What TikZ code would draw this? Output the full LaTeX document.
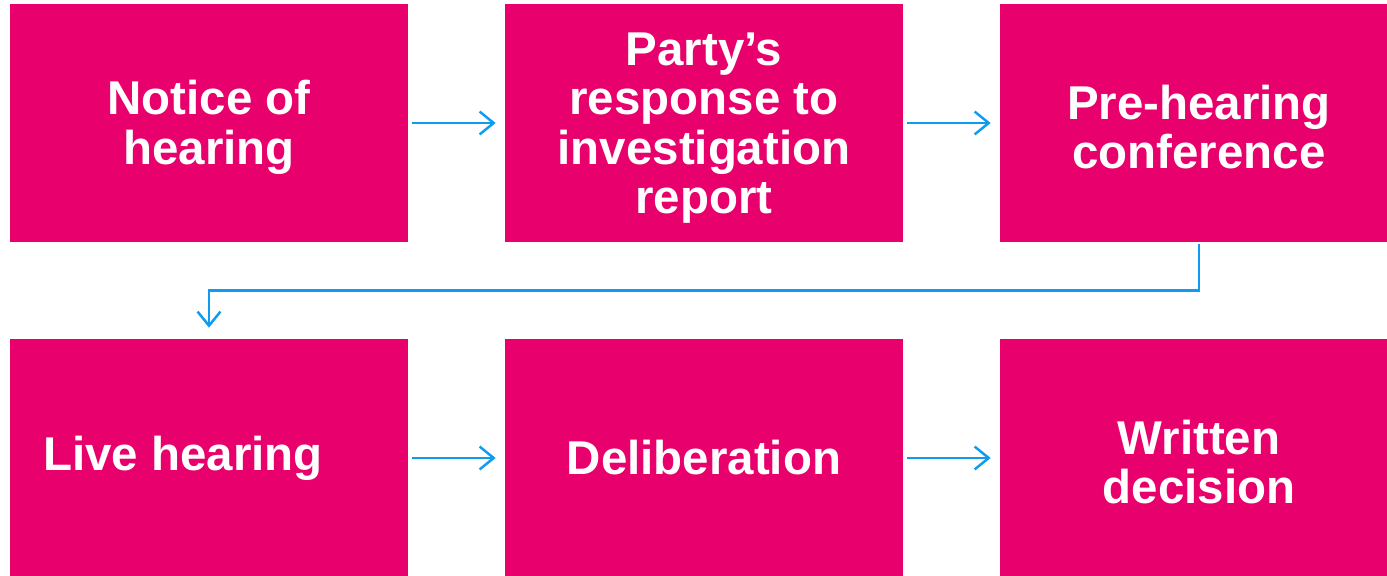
\documentclass[tikz,border=0pt]{standalone}
\usepackage{fontspec}
\setmainfont{Liberation Sans}
\usepackage{tikz}
\usetikzlibrary{arrows.meta, positioning, calc}
\definecolor{stagepink}{HTML}{E8006C}
\definecolor{flowblue}{HTML}{0E9BF2}
% taller first line, drops stacked labels a little
\newcommand{\topgap}{\rule{0pt}{0.86cm}}

\begin{document}
\begin{tikzpicture}[
    stage/.style={rectangle, fill=stagepink, minimum width=7.96cm,
                  minimum height=4.76cm, inner sep=0pt, text=white,
                  font=\fontsize{27}{28.1}\selectfont\bfseries, align=center},
    flow/.style={-{Straight Barb[length=8pt, width=13pt, line width=1.4pt]},
                 draw=flowblue, line width=1.4pt, shorten <=0.08cm, shorten >=0.18cm}
]
\useasboundingbox (0,0) rectangle (27.74,11.52);
\clip (0,0) rectangle (27.74,11.52);

% First row of stages
\node[stage] at (4.18,9.06) (notice) {\topgap Notice of\\hearing};
\node[stage] at (14.08,9.06) (response) {\topgap Party’s\\response to\\investigation\\report};
\node[stage] at (23.98,9.06) (prehear) {\topgap Pre-hearing\\conference};

% Second row of stages
\node[stage] at (4.18,2.36) (live) {Live hearing\hspace*{1.04cm}};
\node[stage] at (14.08,2.36) (delib) {Deliberation};
\node[stage] at (23.98,2.36) (decision) {\topgap Written\\decision};

% Arrows along each row
\draw[flow] (notice) -- (response);
\draw[flow] (response) -- (prehear);
\draw[flow] (live) -- (delib);
\draw[flow] (delib) -- (decision);

% Wrap from the end of row one to the start of row two
\coordinate (turn) at ($(prehear.south)+(0,-0.96)$);
\draw[flow, shorten <=0.04cm, shorten >=0.22cm] (prehear.south) -- (turn) -| (live.north);

\end{tikzpicture}
\end{document}
